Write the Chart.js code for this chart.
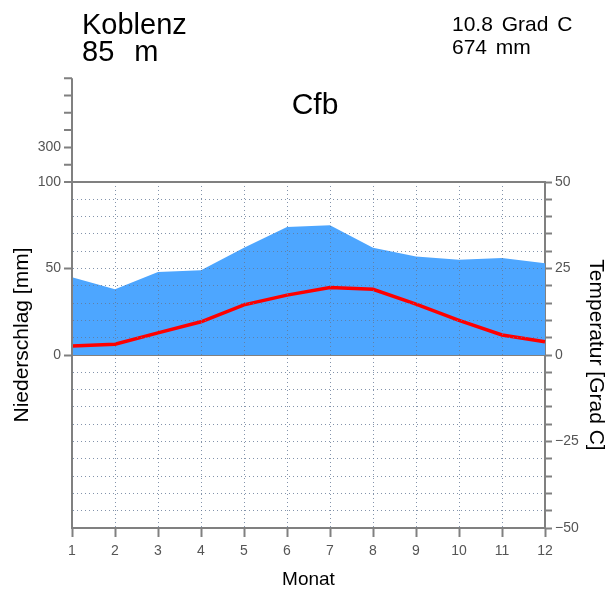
<!DOCTYPE html>
<html>
<head>
<meta charset="utf-8">
<script src="https://cdn.jsdelivr.net/npm/chart.js@4.4.1/dist/chart.umd.min.js"></script>
<style>
  html, body { margin: 0; padding: 0; background: #fff; }
  canvas { display: block; }
</style>
</head>
<body>
<canvas id="klima" width="613" height="593"></canvas>
<script>
// Koblenz climate data
var months = ['1', '2', '3', '4', '5', '6', '7', '8', '9', '10', '11', '12'];
var precip = [45, 38, 48, 49, 62, 74, 75, 62, 57, 55, 56, 53];           // mm
var temp = [2.6, 3.1, 6.4, 9.6, 14.5, 17.3, 19.5, 19.0, 14.7, 10.0, 5.8, 3.8]; // Grad C
var precipLabels = [0, 50, 100];
var tempLabels = [-50, -25, 0, 25, 50];
var upperTicks = [200, 300, 400, 500, 600, 700];
var upperLabels = ['', '300', '', '', '', ''];

var station = 'Koblenz';
var elevation = '85 m';
var meanTemp = '10.8 Grad C';
var yearPrecip = '674 mm';
var climate = 'Cfb';

var axisGrey = '#808080';
var tickGrey = '#555';
var dotColor = 'rgba(100,120,150,0.8)';

Chart.defaults.font.family = "'Liberation Sans', Arial, sans-serif";

// header texts, left axis title and the compressed part of the mm axis above 100
var extras = {
  id: 'extras',
  afterDraw: function (chart) {
    var ctx = chart.ctx;
    var a = chart.chartArea;
    var y = chart.scales.y;
    function upper(v) { return y.getPixelForValue(100 + (v - 100) / 10); }

    ctx.save();
    ctx.strokeStyle = axisGrey;
    ctx.lineWidth = 2;
    ctx.beginPath();
    ctx.moveTo(a.left, a.top);
    ctx.lineTo(a.left, upper(upperTicks[upperTicks.length - 1]));
    upperTicks.forEach(function (v) {
      ctx.moveTo(a.left - 8, upper(v));
      ctx.lineTo(a.left, upper(v));
    });
    ctx.stroke();

    ctx.fillStyle = tickGrey;
    ctx.font = "14px 'Liberation Sans', Arial, sans-serif";
    ctx.textAlign = 'right';
    ctx.textBaseline = 'middle';
    upperTicks.forEach(function (v, i) {
      if (upperLabels[i]) ctx.fillText(upperLabels[i], a.left - 11, upper(v));
    });

    ctx.fillStyle = '#000';
    ctx.textAlign = 'left';
    ctx.textBaseline = 'alphabetic';
    ctx.font = "29px 'Liberation Sans', Arial, sans-serif";
    ctx.fillText(station, 82, 34);
    ctx.wordSpacing = '12px';
    ctx.fillText(elevation, 82, 61);
    ctx.wordSpacing = '3px';
    ctx.font = "21px 'Liberation Sans', Arial, sans-serif";
    ctx.fillText(meanTemp, 452, 31);
    ctx.fillText(yearPrecip, 452, 54);
    ctx.wordSpacing = '0px';
    ctx.textAlign = 'center';
    ctx.font = "30px 'Liberation Sans', Arial, sans-serif";
    ctx.fillText(climate, 315, 114);

    ctx.translate(22, 335);
    ctx.rotate(-Math.PI / 2);
    ctx.textBaseline = 'middle';
    ctx.font = "21px 'Liberation Sans', Arial, sans-serif";
    ctx.fillText('Niederschlag [mm]', 0, 0);
    ctx.restore();
  }
};

new Chart(document.getElementById('klima'), {
  type: 'line',
  data: {
    labels: months,
    datasets: [{
      label: 'Niederschlag',
      data: precip,
      yAxisID: 'y',
      fill: 'origin',
      backgroundColor: 'rgb(77,166,255)',
      borderWidth: 0,
      pointRadius: 0,
      tension: 0,
      order: 2
    }, {
      label: 'Temperatur',
      data: temp,
      yAxisID: 'y2',
      fill: false,
      borderColor: 'rgb(255,0,0)',
      borderWidth: 3.5,
      pointRadius: 0,
      tension: 0,
      order: 1
    }]
  },
  options: {
    responsive: false,
    animation: false,
    layout: { padding: { top: 182, left: 0, right: 0, bottom: 0 } },
    plugins: { legend: { display: false }, tooltip: { enabled: false } },
    scales: {
      x: {
        offset: false,
        afterFit: function (s) { s.height = 65; },
        ticks: { color: tickGrey, font: { size: 14 }, padding: 6, maxRotation: 0 },
        grid: {
          z: 1,
          color: function (c) { return c.index === 0 || c.index === months.length - 1 ? 'rgba(0,0,0,0)' : dotColor; },
          lineWidth: 1,
          tickLength: 9,
          tickWidth: 2,
          tickColor: axisGrey,
          tickBorderDash: []
        },
        border: { z: 1, color: axisGrey, width: 2, dash: [1, 3] },
        title: { display: true, text: 'Monat', color: '#000', font: { size: 19 }, padding: { top: 0, bottom: 2 } }
      },
      y: {
        position: 'left',
        min: -100,
        max: 100,
        afterFit: function (s) { s.width = 72; },
        ticks: {
          stepSize: 10,
          autoSkip: false,
          padding: 3,
          color: tickGrey,
          font: { size: 14 },
          callback: function (v) { return precipLabels.indexOf(v) >= 0 ? String(v) : ''; }
        },
        grid: {
          z: 1,
          tickLength: 8,
          tickWidth: 2,
          tickBorderDash: [],
          lineWidth: function (c) { return c.tick && c.tick.value === 100 ? 2 : 1; },
          color: function (c) {
            var v = c.tick.value;
            if (v === -100) return 'rgba(0,0,0,0)';
            if (v === 0 || v === 100) return axisGrey;
            return dotColor;
          },
          tickColor: function (c) { return precipLabels.indexOf(c.tick.value) >= 0 ? axisGrey : 'rgba(0,0,0,0)'; }
        },
        border: {
          z: 1,
          color: axisGrey,
          width: 2,
          dash: function (c) {
            return c.tick && (c.tick.value === 0 || c.tick.value === 100) ? [] : [1, 3];
          }
        }
      },
      y2: {
        position: 'right',
        min: -50,
        max: 50,
        afterFit: function (s) { s.width = 68; },
        ticks: {
          stepSize: 5,
          autoSkip: false,
          padding: 3,
          color: tickGrey,
          font: { size: 14 },
          callback: function (v) {
            if (tempLabels.indexOf(v) < 0) return '';
            return v < 0 ? '\u2212' + (-v) : String(v);
          }
        },
        grid: { drawOnChartArea: false, tickLength: 7, tickWidth: 2, tickColor: axisGrey, tickBorderDash: [] },
        border: { color: axisGrey, width: 2 },
        title: { display: true, text: 'Temperatur [Grad C]', color: '#000', font: { size: 21 }, padding: { top: 5, bottom: 0 } }
      }
    }
  },
  plugins: [extras]
});
</script>
</body>
</html>
